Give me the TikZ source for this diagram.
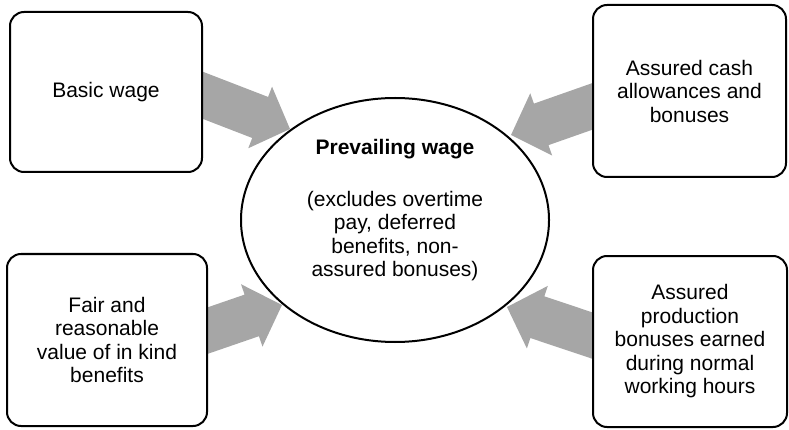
\documentclass[tikz,border=0pt]{standalone}
\usepackage{fontspec}
\setmainfont{Liberation Sans}
\usetikzlibrary{calc,backgrounds,shapes.geometric}
\definecolor{arrowgray}{RGB}{166,166,166}
\tikzset{
  box/.style={draw=black, line width=2pt, fill=white, rounded corners=14pt,
    align=center, inner sep=0pt},
  bubble/.style={draw=black, line width=2pt, fill=white, ellipse, inner sep=0pt,
    minimum width=308pt, minimum height=244pt},
  lbl/.style={align=center, inner sep=0pt},
  blockfill/.style={fill=arrowgray}
}
\newcommand{\blockarr}[2]{%
  \coordinate (hh) at ($(#2)!32pt!(#1)$);
  \path[blockfill] ($(#1)!22pt!90:(#2)$) -- ($(hh)!22pt!90:(#2)$) -- ($(hh)!33pt!90:(#2)$)
    -- (#2) -- ($(hh)!33pt!-90:(#2)$) -- ($(hh)!22pt!-90:(#2)$) -- ($(#1)!22pt!-90:(#2)$) -- cycle;
}
\begin{document}
\begin{tikzpicture}[x=1pt, y=-1pt, font=\fontsize{21}{23.5}\selectfont]
\useasboundingbox (0,0) rectangle (789,430);

\node[bubble] (pw) at (395,220) {};
\node[lbl, font=\fontsize{21}{23.5}\selectfont] (pwtext) at ([yshift=10pt]pw.center)
  {\textbf{Prevailing wage}\\[28.5pt](excludes overtime\\pay, deferred\\benefits, non-\\assured bonuses)};

\node[box, minimum width=192pt, minimum height=160pt] (tl) at (106,92) {Basic wage};
\node[box, minimum width=193pt, minimum height=172pt] (tr) at (689.5,91)
  {Assured cash\\allowances and\\bonuses};
\node[box, minimum width=200pt, minimum height=172pt] (bl) at (107,340)
  {Fair and\\reasonable\\value of in kind\\benefits};
\node[box, minimum width=194pt, minimum height=171pt] (br) at (690,341.5)
  {Assured\\production\\bonuses earned\\during normal\\working hours};

\coordinate (tltail) at (180,86.5);
\coordinate (tltip) at (290,129);
\coordinate (trtail) at (610,100.2);
\coordinate (trtip) at (511,135);
\coordinate (bltail) at (185,338.4);
\coordinate (bltip) at (282,305);
\coordinate (brtail) at (610,341.5);
\coordinate (brtip) at (507,307);

\begin{pgfonlayer}{background}
\blockarr{tltail}{tltip}
\blockarr{trtail}{trtip}
\blockarr{bltail}{bltip}
\blockarr{brtail}{brtip}
\end{pgfonlayer}
\end{tikzpicture}
\end{document}
